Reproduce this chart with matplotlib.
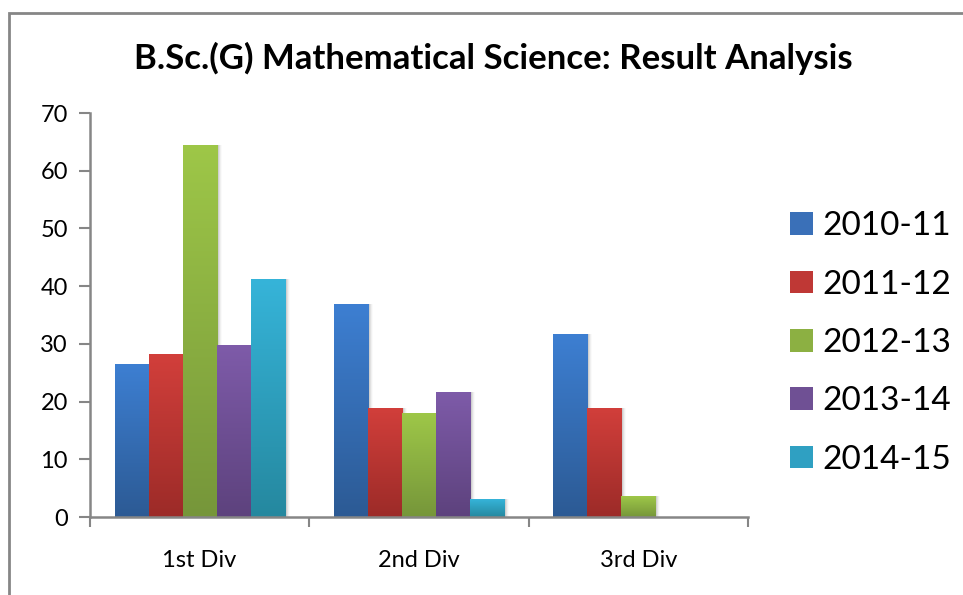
import numpy as np
import matplotlib
matplotlib.use("Agg")
import matplotlib.pyplot as plt
from matplotlib.colors import LinearSegmentedColormap
from matplotlib.patches import Rectangle, Patch
import matplotlib.transforms as mtransforms

plt.rcParams['font.family'] = ['Lato', 'DejaVu Sans']

categories = ["1st Div", "2nd Div", "3rd Div"]
series_names = ["2010-11", "2011-12", "2012-13", "2013-14", "2014-15"]
v2010_11 = [26.5, 36.9, 31.7]
v2011_12 = [28.2, 18.9, 18.9]
v2012_13 = [64.5, 18.0, 3.6]
v2013_14 = [29.8, 21.7, 0]
v2014_15 = [41.2, 3.1, 0]
values = [v2010_11, v2011_12, v2012_13, v2013_14, v2014_15]
yticks = [0, 10, 20, 30, 40, 50, 60, 70]

tops = ["#3D7FD2", "#D23F3B", "#9EC748", "#7E5BA9", "#36B4D9"]
bottoms = ["#2C5A94", "#9C2B28", "#76963A", "#5D427D", "#25889F"]
mids = ["#3A70B8", "#BF3835", "#8CB042", "#6F5094", "#2FA0C2"]

fig = plt.figure(figsize=(9.63, 5.95), dpi=100)
W, H = 963, 595
ax = fig.add_axes([90 / W, (595 - 517) / H, (748 - 90) / W, (517 - 113) / H])

n = len(series_names)
group = 0.776
bw = group / n
x = np.arange(len(categories))
for i, (vals, t, b) in enumerate(zip(values, tops, bottoms)):
    offs = x - group / 2 + bw * (i + 0.5)
    bars = ax.bar(offs, vals, width=bw, color=b, zorder=3, linewidth=0)
    cmap = LinearSegmentedColormap.from_list(f"g{i}", [b, t])
    grad = np.linspace(0, 1, 256).reshape(-1, 1)
    for rect in bars:
        h = rect.get_height()
        if h <= 0:
            rect.set_visible(False)
            continue
        x0 = rect.get_x()
        w = rect.get_width()
        # soft shadow
        for k, a in zip([1, 2, 3, 4, 5], [0.10, 0.08, 0.06, 0.04, 0.02]):
            tr = mtransforms.offset_copy(ax.transData, fig=fig, x=k * 0.72, y=-0.0, units='points')
            sh = Rectangle((x0, 0), w, h, transform=tr, facecolor='black', alpha=a,
                           linewidth=0, zorder=2)
            ax.add_patch(sh)
        im = ax.imshow(grad, extent=[x0, x0 + w, 0, h], origin='lower', aspect='auto',
                       cmap=cmap, zorder=4, interpolation='bilinear')
        im.set_clip_path(rect)

ax.set_xlim(-0.5, len(categories) - 0.5)
ax.set_ylim(0, 70)
ax.set_yticks(yticks)
ax.set_yticklabels([str(v) for v in yticks])
ax.set_xticks(x)
ax.set_xticklabels(categories)
ax.set_xticks(np.arange(len(categories) + 1) - 0.5, minor=True)
ax.tick_params(axis='x', which='major', length=0, pad=24, labelsize=17)
ax.tick_params(axis='x', which='minor', length=7, width=1.5, color='#868686', direction='out')
ax.tick_params(axis='y', length=8, width=1.5, color='#868686', direction='out', pad=8, labelsize=17)
for s in ['top', 'right']:
    ax.spines[s].set_visible(False)
for s in ['left', 'bottom']:
    ax.spines[s].set_color('#868686')
    ax.spines[s].set_linewidth(1.8)
ax.spines['bottom'].set_zorder(5)

# chart frame
frame = Rectangle((9 / W, -0.1), 1.2, (595 - 13) / H + 0.1, transform=fig.transFigure,
                  fill=False, edgecolor='#868686', linewidth=2)
fig.patches.append(frame)

fig.text(493 / W, 1 - 58 / H, "B.Sc.(G) Mathematical Science: Result Analysis",
         ha='center', va='center', fontsize=25, fontweight='bold')

handles = [Patch(facecolor=c, edgecolor='none') for c in mids]
fig.legend(handles, series_names, loc='center left', bbox_to_anchor=(790 / W, 1 - 343 / H),
           frameon=False, fontsize=24, handlelength=0.68, handleheight=0.68,
           handletextpad=0.3, labelspacing=0.85, borderaxespad=0, borderpad=0)

fig.savefig("out.png", dpi=100)
